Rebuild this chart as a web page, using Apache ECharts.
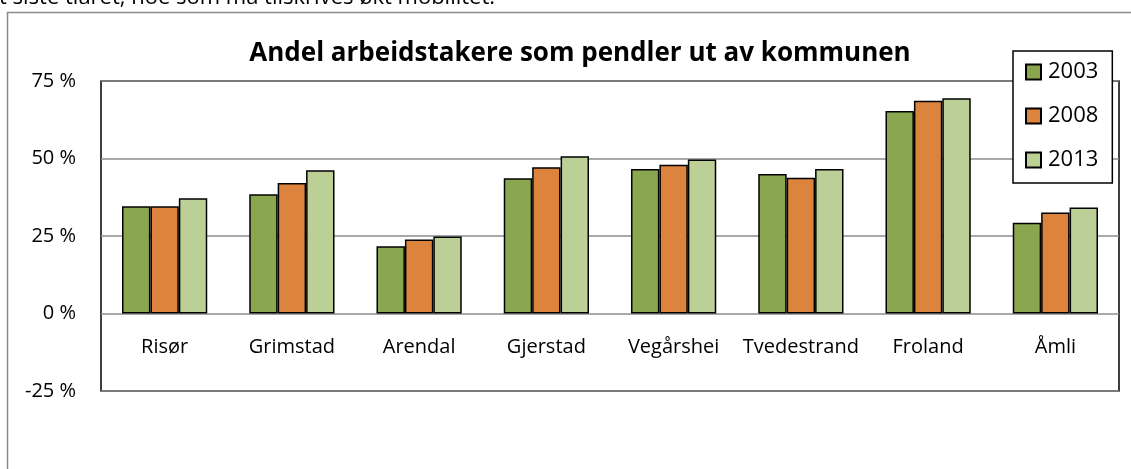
<!DOCTYPE html>
<html>
<head>
<meta charset="utf-8">
<script src="https://cdn.jsdelivr.net/npm/echarts@6/dist/echarts.min.js"></script>
<style>
html,body{margin:0;padding:0;background:#fff;}
#c{width:1131px;height:469px;}
</style>
</head>
<body>
<div id="c"></div>
<script>
const categories = ['Risør','Grimstad','Arendal','Gjerstad','Vegårshei','Tvedestrand','Froland','Åmli'];
const seriesNames = ['2003','2008','2013'];
const v2003 = [34.6, 38.5, 21.7, 43.6, 46.6, 45.0, 65.3, 29.3];
const v2008 = [34.6, 42.1, 23.9, 47.2, 48.0, 43.8, 68.6, 32.6];
const v2013 = [37.2, 46.2, 24.8, 50.7, 49.7, 46.6, 69.4, 34.2];
const titleText = 'Andel arbeidstakere som pendler ut av kommunen';
const topText = 't siste tiåret, noe som må tilskrives økt mobilitet.';
const colors = ['#8aa64e', '#dc833e', '#bbcf97'];

const font = '"Open Sans", Lato, sans-serif';
const chart = echarts.init(document.getElementById('c'), null, {renderer:'canvas'});
const values = [v2003, v2008, v2013];
const gridTop = 81, gridBottom = 78, H = 469;
const plotH = H - gridTop - gridBottom;
chart.setOption({
  animation:false,
  textStyle:{fontFamily:font},
  title:{
    text:titleText, left:575, textAlign:'center', top:36,
    textStyle:{fontFamily:font, fontWeight:'bold', fontSize:26, color:'#000'}
  },
  legend:{
    orient:'vertical', left:1013, top:51,
    padding:[10,14,12,12], itemGap:22,
    backgroundColor:'#fff', borderColor:'#000', borderWidth:1.5,
    itemWidth:15, itemHeight:15, icon:'rect',
    textStyle:{fontFamily:font, fontSize:22, color:'#000', padding:[0,0,0,2]},
    data:seriesNames
  },
  grid:{
    left:101, right:12, top:gridTop, bottom:gridBottom, show:true,
    borderColor:'#000', borderWidth:1.5, backgroundColor:'transparent'
  },
  xAxis:{
    type:'category', data:categories, position:'bottom',
    offset: -plotH * 25 / 100,
    axisLine:{show:false, onZero:false},
    axisTick:{show:false},
    axisLabel:{fontFamily:font, fontSize:20, color:'#000', margin:24, interval:0}
  },
  yAxis:{
    type:'value', min:-25, max:75, interval:25,
    axisLine:{show:false}, axisTick:{show:false},
    axisLabel:{fontFamily:font, fontSize:20, color:'#000', margin:25, formatter:'{value} %'},
    splitLine:{lineStyle:{color:'#8c8c8c', width:1.5}}
  },
  series: seriesNames.map((n,i)=>({
    name:n, type:'bar', data:values[i],
    barGap:'0%', barCategoryGap:'33%',
    itemStyle:{color:colors[i], borderColor:'#000', borderWidth:1.5}
  })),
  graphic:[
    {type:'polyline', shape:{points:[[7.5,469],[7.5,12.5],[1131,12.5]]},
     style:{stroke:'#8c8c8c', lineWidth:1.5, fill:null}, silent:true},
    {type:'text', left:-1, top:-13,
     style:{text:topText, font:'22px "Open Sans", Lato, sans-serif', fill:'#000'}}
  ]
});
</script>
</body>
</html>
